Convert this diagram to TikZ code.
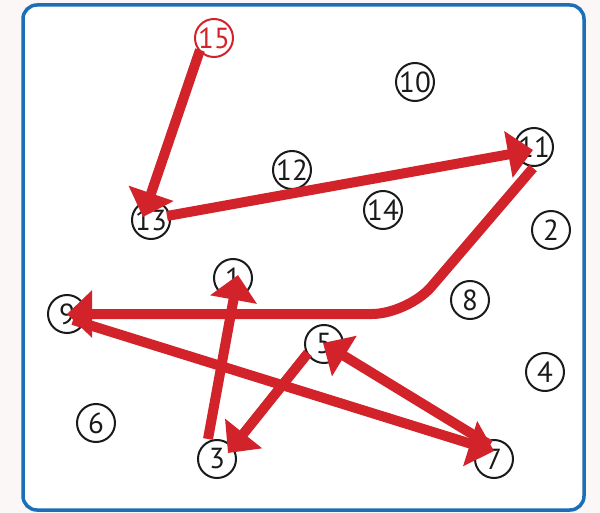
\documentclass[tikz,border=0pt]{standalone}
\usepackage{fontspec}
\setmainfont{PT Sans}
\usetikzlibrary{arrows.meta,calc}
\definecolor{arrred}{HTML}{D2232A}
\definecolor{frameblue}{HTML}{1C6EB7}
\definecolor{bgcol}{HTML}{FBF7F6}
\definecolor{inkblack}{HTML}{1A1A1A}
\begin{document}
\begin{tikzpicture}[x=1pt,y=-1pt,
  dot/.style={circle,draw=inkblack,line width=2pt,minimum size=38pt,inner sep=0pt,
    font=\fontsize{29}{29}\selectfont,text=inkblack},
  reddot/.style={dot,draw=arrred,text=arrred},
  arr/.style={draw=arrred,line width=10pt,-{Triangle[width=46pt,length=25pt]}}]
\useasboundingbox (0,0) rectangle (600,513);
\fill[bgcol] (0,0) rectangle (600,513);
\draw[frameblue,line width=3.5pt,fill=white,rounded corners=14pt] (23,5) rectangle (584,510);
% dots
\node[reddot] (n15) at (214,38) {15};
\node[dot] (n13) at (151,220) {13};
\node[dot] (n12) at (292,170) {12};
\node[dot] (n10) at (415,82) {10};
\node[dot] (n11) at (534,147) {11};
\node[dot] (n14) at (383,210) {14};
\node[dot] (n2) at (551,230) {2};
\node[dot] (n1) at (233,278) {1};
\node[dot] (n9) at (67,314) {9};
\node[dot] (n6) at (96,423) {6};
\node[dot] (n3) at (217,459) {3};
\node[dot] (n8) at (470,300) {8};
\node[dot] (n5) at (324,344) {5};
\node[dot] (n4) at (545,372) {4};
\node[dot] (n7) at (494,459) {7};
\coordinate (bend) at (408,314);
% arrows
\draw[arr] ($(n15)+(-14,12)$) -- ($(n13)+(-8,-3)$);
\draw[arr] ($(n13)+(16,-4)$) -- ($(n11)+(-1,3)$);
\draw[arr,rounded corners=36pt] ($(n11)+(-1,21)$) -- (bend) -- (n9.center);
\draw[arr] ($(n9)+(6,6)$) -- ($(n7)+(0,-8)$);
\draw[arr] ($(n7)+(-4,-14)$) -- ($(n5)+(-1,-1)$);
\draw[arr] ($(n5)+(-16,9)$) -- ($(n3)+(11,-6)$);
\draw[arr] ($(n3)+(-9,-20)$) -- ($(n1)+(5,-3)$);
\end{tikzpicture}
\end{document}
